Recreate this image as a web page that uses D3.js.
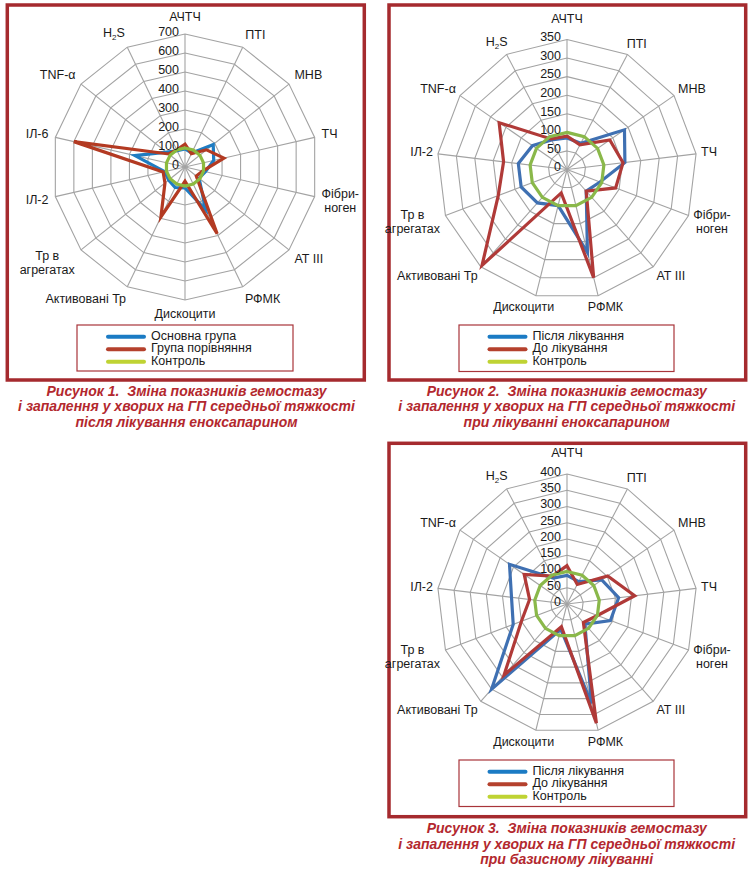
<!DOCTYPE html>
<html><head><meta charset="utf-8">
<script src="https://cdn.jsdelivr.net/npm/d3@7"></script>
<style>
body{margin:0;background:#fff;}
svg{display:block;font-family:"Liberation Sans",Arial,sans-serif;}
</style></head><body>
<svg id="c" width="751" height="871"></svg>
<script>
// ---------- DATA ----------
const categories14 = ["АЧТЧ","ПТІ","МНВ","ТЧ","Фібри-\nноген","AT III","РФМК","Дискоцити","Активовані Тр","Тр в\nагрегатах","ІЛ-2","ІЛ-6","TNF-α","H2S"];
const categories13 = ["АЧТЧ","ПТІ","МНВ","ТЧ","Фібри-\nноген","AT III","РФМК","Дискоцити","Активовані Тр","Тр в\nагрегатах","ІЛ-2","TNF-α","H2S"];

// Figure 1
const fig1Main    = [95, 82, 190, 155, 110, 95, 250, 110, 120, 110, 110, 270, 125, 95];
const fig1Compare = [120, 78, 145, 210, 95, 76, 390, 75, 292, 135, 118, 600, 110, 100];
const fig1Control = [100, 100, 100, 100, 100, 100, 100, 100, 100, 100, 100, 100, 100, 100];
const fig1Ticks   = [0, 100, 200, 300, 400, 500, 600, 700];

// Figure 2
const fig2After   = [85, 80, 188, 157, 95, 78, 230, 100, 120, 132, 132, 113, 90];
const fig2Before  = [90, 75, 140, 152, 140, 78, 300, 65, 345, 198, 172, 222, 93];
const fig2Control = [100, 100, 100, 100, 100, 100, 100, 100, 100, 100, 100, 100, 100];
const fig2Ticks   = [0, 50, 100, 150, 200, 250, 300, 350];

// Figure 3
const fig3After   = [88, 78, 130, 160, 143, 83, 315, 80, 350, 177, 172, 215, 90];
const fig3Before  = [118, 68, 152, 210, 100, 76, 378, 72, 292, 150, 116, 160, 97];
const fig3Control = [100, 100, 100, 100, 100, 100, 100, 100, 100, 100, 100, 100, 100];
const fig3Ticks   = [0, 50, 100, 150, 200, 250, 300, 350, 400];

const legend1  = ["Основна група", "Група порівняння", "Контроль"];
const legend23 = ["Після лікування", "До лікування", "Контроль"];

const caption1 = ["Рисунок 1.  Зміна показників гемостазу", "і запалення у хворих на ГП середньої тяжкості", "після лікування еноксапарином"];
const caption2 = ["Рисунок 2.  Зміна показників гемостазу", "і запалення у хворих на ГП середньої тяжкості", "при лікуванні еноксапарином"];
const caption3 = ["Рисунок 3.  Зміна показників гемостазу", "і запалення у хворих на ГП середньої тяжкості", "при базисному лікуванні"];

// ---------- STYLE ----------
const legendColors = ["#1b7bc4", "#b5412d", "#bfd333"];
const frameColor = "#a52a2e";
const captionColor = "#b3282e";

const svg = d3.select("#c");

function drawRadar(cfg) {
  const g = svg.append("g");
  const n = cfg.categories.length;
  const maxV = d3.max(cfg.ticks);
  const r = d3.scaleLinear().domain([0, maxV]).range([0, cfg.R]);
  const ang = d3.scaleLinear().domain([0, n]).range([0, 2 * Math.PI]);

  // frame
  g.append("rect")
    .attr("x", cfg.frame[0]).attr("y", cfg.frame[1])
    .attr("width", cfg.frame[2]).attr("height", cfg.frame[3])
    .attr("fill", "none").attr("stroke", frameColor).attr("stroke-width", 3.5);

  const plot = g.append("g").attr("transform", `translate(${cfg.cx},${cfg.cy})`);

  const radial = d3.lineRadial()
    .angle((d, i) => ang(i))
    .radius(d => r(d))
    .curve(d3.curveLinearClosed);

  // rings
  cfg.ticks.filter(t => t > 0).forEach(t => {
    plot.append("path")
      .attr("d", radial(cfg.categories.map(() => t)))
      .attr("fill", "none").attr("stroke", "#a3a3a3").attr("stroke-width", 1.1);
  });
  // spokes
  cfg.categories.forEach((c, i) => {
    const a = ang(i);
    plot.append("line")
      .attr("x1", 0).attr("y1", 0)
      .attr("x2", r(maxV) * Math.sin(a)).attr("y2", -r(maxV) * Math.cos(a))
      .attr("stroke", "#a3a3a3").attr("stroke-width", 1.1);
  });

  // series
  cfg.series.forEach(s => {
    plot.append("path")
      .attr("d", radial(s.values))
      .attr("fill", "none").attr("stroke", s.color)
      .attr("stroke-width", 3.2).attr("stroke-linejoin", "miter").attr("stroke-miterlimit", 6);
  });

  // tick labels
  cfg.ticks.forEach(t => {
    plot.append("text")
      .attr("x", -6).attr("y", -r(t) - 1.5)
      .attr("text-anchor", "end").attr("dominant-baseline", "middle")
      .attr("font-size", 12.5).attr("fill", "#1a1a1a")
      .text(t);
  });

  // category labels
  cfg.categories.forEach((c, i) => {
    const a = ang(i), s = Math.sin(a), co = Math.cos(a);
    const gap = cfg.labelGap + (i === 0 ? cfg.topExtra : 0);
    const px = (cfg.R + gap) * s, py = -(cfg.R + gap) * co;
    const t = plot.append("text").attr("font-size", 12.5).attr("fill", "#1a1a1a").attr("text-anchor", "middle");
    c.split("\n").forEach((ln, k) => {
      if (ln === "H2S") {
        t.append("tspan").attr("x", 0).attr("dy", 0).text("H");
        t.append("tspan").attr("font-size", 8).attr("dy", 3).text("2");
        t.append("tspan").attr("dy", -3).text("S");
      } else {
        t.append("tspan").attr("x", 0).attr("dy", k === 0 ? 0 : 14).text(ln);
      }
    });
    const bb = t.node().getBBox();
    const f = Math.max(-1, Math.min(1, s * cfg.spread));
    const cxl = px + bb.width / 2 * f;
    const cyl = py - bb.height / 2 * co;
    t.attr("transform", `translate(${cxl - (bb.x + bb.width / 2)},${cyl - (bb.y + bb.height / 2)})`);
  });

  // legend
  const L = cfg.legend;
  g.append("rect")
    .attr("x", L.x).attr("y", L.y).attr("width", L.w).attr("height", L.h)
    .attr("fill", "none").attr("stroke", "#a8343a").attr("stroke-width", 1.2);
  L.items.forEach((name, k) => {
    const y = L.y + 11.7 + k * 12.5;
    g.append("line")
      .attr("x1", L.lx).attr("x2", L.lx + 36).attr("y1", y).attr("y2", y)
      .attr("stroke", legendColors[k]).attr("stroke-width", 4).attr("stroke-linecap", "round");
    g.append("text")
      .attr("x", L.lx + 43).attr("y", y).attr("dominant-baseline", "middle")
      .attr("font-size", 12.5).attr("fill", "#1a1a1a").text(name);
  });

  // caption
  cfg.caption.lines.forEach((ln, k) => {
    g.append("text")
      .attr("x", cfg.caption.x).attr("y", cfg.caption.y + k * 15.5)
      .attr("text-anchor", "middle").attr("dominant-baseline", "middle")
      .style("white-space", "pre")
      .attr("font-size", 14).attr("font-weight", "bold").attr("font-style", "italic")
      .attr("fill", captionColor).text(ln);
  });
}

drawRadar({
  cx: 185, cy: 167, R: 133, labelGap: 7, topExtra: 3, spread: 2.2,
  categories: categories14, ticks: fig1Ticks,
  series: [
    {values: fig1Main, color: "#1f7cc2"},
    {values: fig1Compare, color: "#b33a22"},
    {values: fig1Control, color: "#8cba3f"}
  ],
  frame: [7.3, 5, 357, 375],
  legend: {x: 77, y: 325, w: 216, h: 46, lx: 108, items: legend1},
  caption: {x: 186.5, y: 392, lines: caption1}
});

drawRadar({
  cx: 567, cy: 169.5, R: 130, labelGap: 5, topExtra: 9, spread: 1.5,
  categories: categories13, ticks: fig2Ticks,
  series: [
    {values: fig2After, color: "#3f70b2"},
    {values: fig2Before, color: "#b03a38"},
    {values: fig2Control, color: "#8ab84a"}
  ],
  frame: [389, 5, 356.7, 375],
  legend: {x: 459, y: 325, w: 215, h: 46.5, lx: 489.5, items: legend23},
  caption: {x: 566.7, y: 392, lines: caption2}
});

drawRadar({
  cx: 567, cy: 604, R: 130, labelGap: 5, topExtra: 9, spread: 1.5,
  categories: categories13, ticks: fig3Ticks,
  series: [
    {values: fig3After, color: "#3f70b2"},
    {values: fig3Before, color: "#b03a38"},
    {values: fig3Control, color: "#8ab84a"}
  ],
  frame: [389, 443.3, 356.7, 373.4],
  legend: {x: 459, y: 760, w: 215, h: 46.5, lx: 489.5, items: legend23},
  caption: {x: 566.7, y: 829.5, lines: caption3}
});
</script>
</body></html>
